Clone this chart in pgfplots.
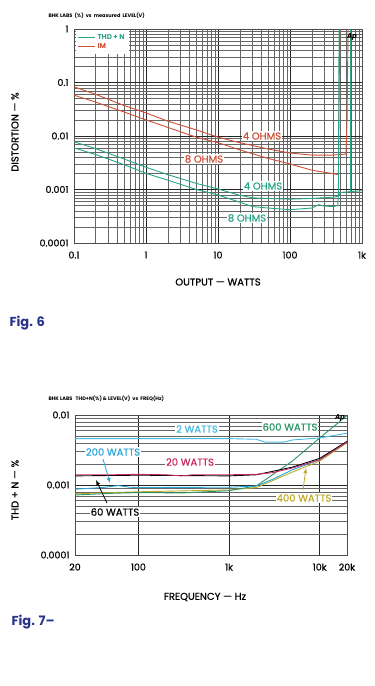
\documentclass[border=0pt]{standalone}
\usepackage{pgfplots}
\pgfplotsset{compat=1.18}
\usepackage{fontspec}
\setmainfont{Poppins}
\newfontfamily\medfont{Poppins}[FakeBold=0.7]
\definecolor{imred}{RGB}{205,80,55}
\definecolor{thdteal}{RGB}{40,165,135}
\definecolor{cyanA}{RGB}{70,185,225}
\definecolor{cyanB}{RGB}{40,165,215}
\definecolor{magA}{RGB}{200,40,95}
\definecolor{grnA}{RGB}{40,150,100}
\definecolor{olivecol}{RGB}{190,170,40}
\definecolor{figblue}{RGB}{40,50,140}
\pgfplotsset{
  myrefchart/.style={
    scale only axis,
    grid=both,
    major grid style={black!85, line width=0.55pt},
    minor grid style={black!60, line width=0.35pt},
    major tick length=0pt, minor tick length=0pt,
    axis line style={black!70, line width=0.5pt},
    tick label style={font=\medfont\fontsize{9.5}{10}\selectfont},
    /pgf/number format/assume math mode=true,
    xticklabel style={yshift=-5pt},
    yticklabel style={xshift=-2pt},
  }
}
\begin{document}
\begin{tikzpicture}
\useasboundingbox (0pt,0pt) rectangle (375pt,686pt);
% ---------------- Fig. 6 ----------------
\begin{loglogaxis}[myrefchart, at={(74pt,443pt)}, anchor=south west,
  width=288pt, height=214pt,
  xmin=0.1, xmax=1000, ymin=1e-4, ymax=1,
  xtick={0.1,1,10,100,1000}, xticklabels={0.1,1,10,100,1k},
  ytick={1e-4,1e-3,1e-2,0.1,1}, yticklabels={0.0001,0.001,0.01,0.1,1},
  legend style={at={(0.005,0.995)}, anchor=north west, draw=none, fill=white,
    font=\fontsize{7}{7.5}\selectfont\bfseries, row sep=-1pt, inner sep=2pt},
  legend image post style={line width=0.9pt},
  legend cell align=left]
\addplot[thdteal, no marks, line width=0.9pt] coordinates {(0.1,0.0078)(0.2,0.0058)(0.5,0.0037)(1,0.0026)(2,0.0019)(5,0.0013)(10,0.00102)(20,0.00078)(30,0.0007)(50,0.00068)(100,0.00066)(200,0.00068)(400,0.00072)(470,0.00075)(500,0.00088)(1000,0.00095)};
\addlegendentry{\textcolor{thdteal}{THD + N}}
\addplot[imred, no marks, line width=0.9pt] coordinates {(0.1,0.083)(0.2,0.06)(0.5,0.037)(1,0.027)(2,0.019)(5,0.013)(10,0.0095)(20,0.0075)(50,0.0057)(100,0.0048)(200,0.0044)(400,0.0044)(600,0.0046)(620,0.02)(640,1)};
\addlegendentry{\textcolor{imred}{IM}}
\addplot[imred, no marks, line width=0.9pt, forget plot] coordinates {(0.1,0.058)(0.2,0.043)(0.5,0.028)(1,0.02)(2,0.0145)(5,0.0095)(10,0.0075)(20,0.0055)(50,0.0038)(100,0.003)(200,0.0023)(470,0.0019)(490,1)};
\addplot[thdteal, no marks, line width=0.9pt, forget plot] coordinates {(0.1,0.006)(0.2,0.0045)(0.5,0.0029)(1,0.002)(2,0.0015)(5,0.001)(10,0.00079)(20,0.00058)(30,0.00048)(50,0.00045)(100,0.00042)(200,0.00045)(250,0.00052)(300,0.00049)(400,0.00048)(460,0.0005)(470,0.0008)(480,1)};
\addplot[thdteal, no marks, line width=0.9pt, forget plot] coordinates {(690,0.0009)(690,1)};
\end{loglogaxis}
\node[font=\fontsize{5}{5}\selectfont\bfseries, anchor=west] at (45pt,670pt) {BHK LABS\ \ (\%)\ \ vs\ \ measured\ \ LEVEL(V)};
\node[font=\fontsize{7}{7}\selectfont\itshape\bfseries] at (352pt,649pt) {Ap};
\node[font=\medfont\fontsize{10}{10}\selectfont, text=imred, fill=white, inner sep=1pt] at (262pt,550pt) {4 OHMS};
\node[font=\medfont\fontsize{10}{10}\selectfont, text=imred, fill=white, inner sep=1pt] at (204pt,527pt) {8 OHMS};
\node[font=\medfont\fontsize{10}{10}\selectfont, text=thdteal, fill=white, inner sep=1pt] at (263pt,500pt) {4 OHMS};
\node[font=\medfont\fontsize{10}{10}\selectfont, text=thdteal, fill=white, inner sep=1pt] at (247pt,468pt) {8 OHMS};
\node[font=\medfont\fontsize{10}{10}\selectfont] at (218pt,404pt) {OUTPUT — WATTS};
\node[font=\medfont\fontsize{10}{10}\selectfont, rotate=90] at (15pt,554pt) {DISTORTION — \%};
\node[font=\fontsize{13}{13}\selectfont\bfseries, text=figblue, anchor=west] at (6pt,363pt) {Fig. 6};
% ---------------- Fig. 7 ----------------
\begin{loglogaxis}[myrefchart, at={(75pt,131pt)}, anchor=south west,
  width=272pt, height=140pt,
  xmin=20, xmax=20000, ymin=1e-4, ymax=0.01,
  xtick={20,100,1000,10000,20000}, xticklabels={20,100,1k,10k,20k},
  ytick={1e-4,1e-3,1e-2}, yticklabels={0.0001,0.001,0.01}]
\addplot[olivecol, no marks, line width=0.9pt] coordinates {(20,0.00075)(100,0.0008)(1000,0.00085)(2000,0.00092)(5000,0.00153)(10000,0.0022)(20000,0.004)};
\addplot[grnA, no marks, line width=0.9pt] coordinates {(20,0.00072)(50,0.00076)(100,0.00078)(300,0.00077)(1000,0.00083)(2000,0.00097)(5000,0.0022)(10000,0.0047)(20000,0.0098)};
\addplot[cyanB, no marks, line width=0.9pt] coordinates {(20,0.00087)(40,0.00092)(60,0.00098)(80,0.00093)(100,0.00092)(1000,0.00093)(2000,0.00097)(3000,0.0012)(5000,0.00165)(10000,0.0023)(20000,0.0041)};
\addplot[cyanA, no marks, line width=0.9pt] coordinates {(20,0.0046)(100,0.0046)(1000,0.0046)(2000,0.0045)(2500,0.0041)(4000,0.0041)(5000,0.0044)(10000,0.0047)(20000,0.0055)};
\addplot[black, no marks, line width=0.9pt] coordinates {(20,0.00135)(100,0.00138)(1000,0.00135)(2000,0.0014)(5000,0.0018)(10000,0.0024)(20000,0.0042)};
\addplot[magA, no marks, line width=0.9pt] coordinates {(20,0.0014)(50,0.0014)(100,0.00142)(200,0.0014)(300,0.00135)(400,0.0014)(1000,0.0014)(2000,0.00142)(3000,0.0015)(5000,0.00175)(10000,0.0023)(20000,0.0041)};
\end{loglogaxis}
\node[font=\fontsize{5}{5}\selectfont\bfseries, anchor=west] at (45pt,287pt) {BHK LABS\ \ \ THD+N(\%)\ \&\ LEVEL(V)\ \ vs\ \ FREQ(Hz)};
\node[font=\fontsize{7}{7}\selectfont\itshape\bfseries] at (340pt,268pt) {Ap};
\node[font=\medfont\fontsize{10}{10}\selectfont, text=cyanA, fill=white, inner sep=1pt] at (197pt,257pt) {2 WATTS};
\node[font=\medfont\fontsize{10}{10}\selectfont, text=grnA, fill=white, inner sep=1pt] at (290pt,259pt) {600 WATTS};
\node[font=\medfont\fontsize{10}{10}\selectfont, text=cyanB, fill=white, inner sep=1pt] at (113pt,234pt) {200 WATTS};
\node[font=\medfont\fontsize{10}{10}\selectfont, text=magA, fill=white, inner sep=1pt] at (190pt,224pt) {20 WATTS};
\node[font=\medfont\fontsize{10}{10}\selectfont, text=black, fill=white, inner sep=1pt] at (115pt,174pt) {60 WATTS};
\node[font=\medfont\fontsize{10}{10}\selectfont, text=olivecol, fill=white, inner sep=1pt] at (304pt,188pt) {400 WATTS};
\draw[cyanB, -latex, line width=0.8pt] (103pt,227pt) -- (110pt,203pt);
\draw[black, -latex, line width=0.8pt] (107pt,183pt) -- (96pt,206pt);
\draw[olivecol, -latex, line width=0.8pt] (303pt,196pt) -- (306pt,218pt);
\node[font=\medfont\fontsize{10}{10}\selectfont] at (205pt,89pt) {FREQUENCY — Hz};
\node[font=\medfont\fontsize{10}{10}\selectfont, rotate=90] at (15pt,196pt) {THD + N — \%};
\node[font=\fontsize{13}{13}\selectfont\bfseries, text=figblue, anchor=west] at (8pt,64pt) {Fig. 7–};
\end{tikzpicture}
\end{document}
